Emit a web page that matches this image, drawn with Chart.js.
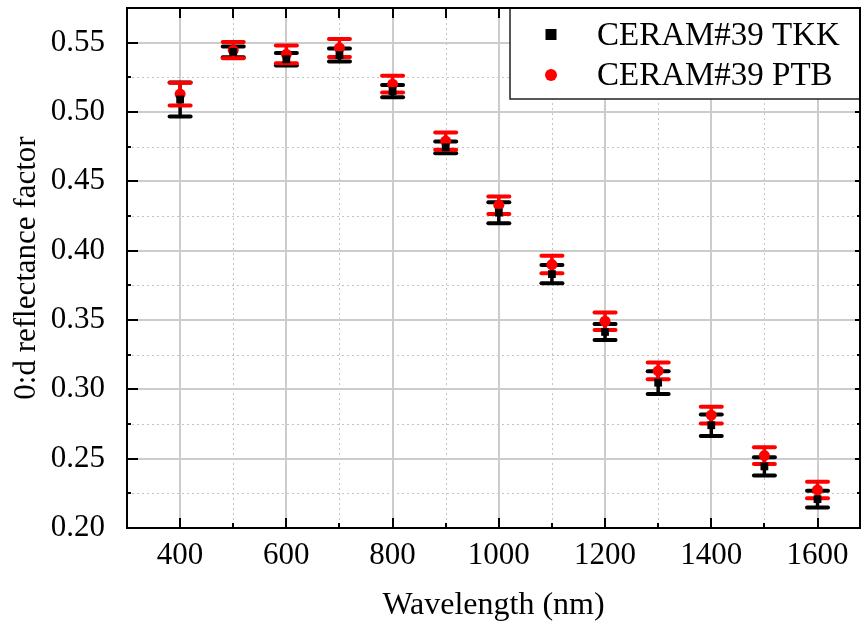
<!DOCTYPE html>
<html><head><meta charset="utf-8">
<script src="https://cdn.jsdelivr.net/npm/chart.js@4.4.1/dist/chart.umd.min.js"></script>
<style>html,body{margin:0;padding:0;background:#fff;} #wrap{width:863px;height:629px;position:relative;}</style>
</head><body><div id="wrap"><canvas id="c" width="863" height="629"></canvas></div>
<script>
// ---- data ----
const wavelengths = [400, 500, 600, 700, 800, 900, 1000, 1100, 1200, 1300, 1400, 1500, 1600];
const tkkValues = [0.509, 0.5434, 0.538, 0.5411, 0.5151, 0.4745, 0.4274, 0.3831, 0.3414, 0.3048, 0.2741, 0.2444, 0.2208];
const tkkErrors = [0.0123, 0.0039, 0.0045, 0.0047, 0.0044, 0.0042, 0.0076, 0.0066, 0.0058, 0.0082, 0.0077, 0.0066, 0.0061];
const ptbValues = [0.5129, 0.5446, 0.5416, 0.5462, 0.5201, 0.4790, 0.4328, 0.3900, 0.3491, 0.3133, 0.2814, 0.2522, 0.2274];
const ptbErrors = [0.0082, 0.0058, 0.0064, 0.0065, 0.0060, 0.0063, 0.0063, 0.0063, 0.0063, 0.0060, 0.0061, 0.0060, 0.0060];
const seriesNames = ['CERAM#39 TKK', 'CERAM#39 PTB'];
const xTicks = [400, 600, 800, 1000, 1200, 1400, 1600];
const yTicks = [0.20, 0.25, 0.30, 0.35, 0.40, 0.45, 0.50, 0.55];
const xTitle = 'Wavelength (nm)';
const yTitle = '0:d reflectance factor';

const FONT = 'Liberation Serif, Times New Roman, serif';

function midpoints(arr, step) {
  const out = [];
  for (let i = 0; i < arr.length; i++) {
    out.push(arr[i] + step / 2);
  }
  out.unshift(arr[0] - step / 2);
  return out;
}
const xMinor = midpoints(xTicks, xTicks[1] - xTicks[0]);
const yMinor = midpoints(yTicks, yTicks[1] - yTicks[0]);

const errorsByDataset = [tkkErrors, ptbErrors];
const colorsByDataset = ['#000000', '#ff0000'];

const customPlugin = {
  id: 'custom',
  beforeDatasetsDraw(chart) {
    const {ctx, chartArea: a, scales: {x, y}} = chart;
    ctx.save();
    // minor dotted grid
    ctx.strokeStyle = '#c4c4c4';
    ctx.lineWidth = 1;
    ctx.setLineDash([2, 3]);
    xMinor.forEach(v => {
      const px = Math.round(x.getPixelForValue(v)) + 0.5;
      if (px <= a.left + 1 || px >= a.right - 1) return;
      ctx.beginPath(); ctx.moveTo(px, a.top); ctx.lineTo(px, a.bottom); ctx.stroke();
    });
    yMinor.forEach(v => {
      const py = Math.round(y.getPixelForValue(v)) + 0.5;
      if (py <= a.top + 1 || py >= a.bottom - 1) return;
      ctx.beginPath(); ctx.moveTo(a.left, py); ctx.lineTo(a.right, py); ctx.stroke();
    });
    // major solid grid
    ctx.setLineDash([]);
    ctx.strokeStyle = '#cccccc';
    ctx.lineWidth = 2;
    xTicks.forEach(v => {
      const px = Math.round(x.getPixelForValue(v));
      ctx.beginPath(); ctx.moveTo(px, a.top); ctx.lineTo(px, a.bottom); ctx.stroke();
    });
    yTicks.forEach(v => {
      const py = Math.round(y.getPixelForValue(v));
      if (py >= a.bottom - 1) return;
      ctx.beginPath(); ctx.moveTo(a.left, py); ctx.lineTo(a.right, py); ctx.stroke();
    });
    // error bars: all series, in series order, beneath the markers
    chart.data.datasets.forEach((ds, i) => {
      const errs = errorsByDataset[i];
      ctx.strokeStyle = colorsByDataset[i];
      ctx.lineCap = 'round';
      ds.data.forEach((pt, k) => {
        const px = x.getPixelForValue(pt.x);
        const pTop = y.getPixelForValue(pt.y + errs[k]);
        const pBot = y.getPixelForValue(pt.y - errs[k]);
        ctx.lineWidth = 3.5;
        ctx.beginPath(); ctx.moveTo(px, pTop); ctx.lineTo(px, pBot); ctx.stroke();
        ctx.lineWidth = 4;
        ctx.beginPath(); ctx.moveTo(px - 10.5, pTop); ctx.lineTo(px + 10.5, pTop); ctx.stroke();
        ctx.beginPath(); ctx.moveTo(px - 10.5, pBot); ctx.lineTo(px + 10.5, pBot); ctx.stroke();
      });
    });
    ctx.restore();
  },
  afterDatasetsDraw(chart) {
    const {ctx, chartArea: a, scales: {x, y}} = chart;
    ctx.save();
    ctx.strokeStyle = '#000';
    ctx.lineWidth = 2;
    // ticks (inward)
    const tickLine = (x1, y1, x2, y2) => { ctx.beginPath(); ctx.moveTo(x1, y1); ctx.lineTo(x2, y2); ctx.stroke(); };
    xTicks.forEach(v => {
      const px = Math.round(x.getPixelForValue(v));
      tickLine(px, a.bottom, px, a.bottom - 10);
      tickLine(px, a.top, px, a.top + 10);
    });
    xMinor.forEach(v => {
      const px = Math.round(x.getPixelForValue(v));
      if (px <= a.left + 1 || px >= a.right - 1) return;
      tickLine(px, a.bottom, px, a.bottom - 5);
      tickLine(px, a.top, px, a.top + 10);
    });
    yTicks.forEach(v => {
      const py = Math.round(y.getPixelForValue(v));
      tickLine(a.left, py, a.left + 11, py);
      tickLine(a.right, py, a.right - 5, py);
    });
    yMinor.forEach(v => {
      const py = Math.round(y.getPixelForValue(v));
      if (py <= a.top + 1 || py >= a.bottom - 1) return;
      tickLine(a.left, py, a.left + 4, py);
      tickLine(a.right, py, a.right - 3, py);
    });
    // frame
    ctx.strokeRect(a.left, a.top, a.right - a.left, a.bottom - a.top);

    // legend box
    const lx = 510, ly = a.top, lw = a.right - 510, lh = 99 - a.top;
    ctx.fillStyle = '#fff';
    ctx.fillRect(lx, ly, lw, lh);
    ctx.lineWidth = 1.5;
    ctx.strokeStyle = '#222';
    ctx.strokeRect(lx, ly, lw, lh);
    ctx.lineWidth = 2;
    ctx.strokeStyle = '#000';
    ctx.beginPath(); ctx.moveTo(a.left, a.top); ctx.lineTo(a.right, a.top); ctx.lineTo(a.right, a.bottom); ctx.stroke();
    // legend markers
    ctx.fillStyle = '#000';
    ctx.fillRect(551 - 5.5, 34.5 - 5.5, 11, 11);
    ctx.fillStyle = '#ff0000';
    ctx.beginPath(); ctx.arc(551, 75, 6, 0, Math.PI * 2); ctx.fill();
    ctx.fillStyle = '#000';
    ctx.font = '33px ' + FONT;
    ctx.textBaseline = 'alphabetic';
    ctx.textAlign = 'left';
    ctx.fillText(seriesNames[0], 597, 45);
    ctx.fillText(seriesNames[1], 597, 85);
    ctx.restore();
  }
};

new Chart(document.getElementById('c'), {
  type: 'scatter',
  data: {
    datasets: [
      {
        label: seriesNames[0],
        data: wavelengths.map((w, i) => ({x: w, y: tkkValues[i]})),
        pointStyle: 'rect',
        pointRadius: 5.5,
        backgroundColor: '#000',
        borderColor: '#000',
        borderWidth: 0,
        order: 1
      },
      {
        label: seriesNames[1],
        data: wavelengths.map((w, i) => ({x: w, y: ptbValues[i]})),
        pointStyle: 'circle',
        pointRadius: 5.5,
        backgroundColor: '#ff0000',
        borderColor: '#ff0000',
        borderWidth: 0,
        order: 2
      }
    ]
  },
  options: {
    responsive: false,
    animation: false,
    devicePixelRatio: 1,
    layout: {autoPadding: false, padding: {top: 8, right: 3, left: 0, bottom: 0}},
    plugins: {legend: {display: false}, tooltip: {enabled: false}},
    scales: {
      x: {
        type: 'linear', min: 300, max: 1680,
        afterBuildTicks: s => { s.ticks = xTicks.map(v => ({value: v})); },
        afterFit: s => { s.height = 101; s.paddingLeft = 0; s.paddingRight = 0; },
        grid: {display: false},
        border: {display: false},
        ticks: {font: {family: FONT, size: 31}, color: '#000', padding: 1, maxRotation: 0, autoSkip: false,
                callback: v => String(v)},
        title: {display: true, text: xTitle, font: {family: FONT, size: 32}, color: '#000', padding: {top: 0, bottom: 4}}
      },
      y: {
        type: 'linear', min: 0.2, max: 0.575,
        afterBuildTicks: s => { s.ticks = yTicks.map(v => ({value: v})); },
        afterFit: s => { s.width = 127; s.paddingTop = 0; s.paddingBottom = 0; },
        grid: {display: false},
        border: {display: false},
        ticks: {font: {family: FONT, size: 31}, color: '#000', padding: 14, autoSkip: false,
                callback: v => Number(v).toFixed(2)},
        title: {display: true, text: yTitle, font: {family: FONT, size: 31}, color: '#000', padding: {top: 8, bottom: 0}}
      }
    }
  },
  plugins: [customPlugin]
});
</script>
</body></html>
